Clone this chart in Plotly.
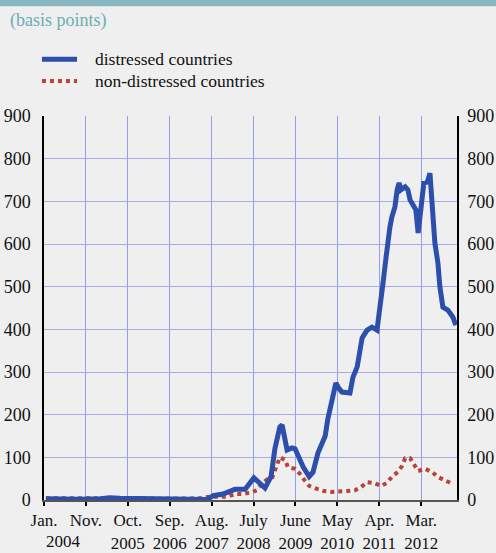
import plotly.graph_objects as go

# x = months since Jan. 2004, y = basis points
distressed_months = [0.5, 4.2, 9.4, 14.7, 17.3, 19.9, 25.2, 30.4, 35.7, 40.9, 42.8, 44.4, 47.0,
                     50.1, 52.8, 55.1, 58.0, 59.6, 60.6, 61.9, 62.5, 63.8, 65.1, 65.9, 68.0,
                     69.6, 70.6, 71.9, 73.0, 73.8, 74.5, 75.9, 76.6, 77.4, 78.2, 80.3, 81.1,
                     82.2, 83.5, 84.8, 86.1, 87.4, 88.2, 89.0, 89.8, 90.3, 90.8, 91.3, 92.1,
                     92.7, 93.2, 93.7, 94.8, 95.5, 96.1, 96.9, 97.6, 98.2, 98.7, 99.2, 99.7,
                     100.5, 100.8, 101.3, 101.8, 102.6, 103.4, 103.9, 104.7, 106.0, 107.3, 108.1]
distressed_bp = [3, 2, 2, 3, 5, 4, 3, 3, 2, 1, 1, 10, 14,
                 25, 25, 52, 28, 55, 120, 171, 176, 117, 122, 120, 78,
                 55, 65, 110, 130, 150, 190, 241, 274, 262, 253, 251, 288,
                 312, 380, 398, 405, 398, 445, 510, 570, 610, 640, 663, 687,
                 727, 743, 727, 734, 727, 703, 691, 680, 626, 663, 719, 743,
                 745, 750, 766, 703, 602, 555, 500, 452, 445, 429, 410]

non_distressed_months = [0.5, 9.4, 19.9, 30.4, 40.9, 42.3, 44.4, 48.3, 50.1, 52.0, 54.1, 55.9,
                         57.2, 58.5, 59.8, 60.4, 61.2, 61.9, 63.3, 64.0, 65.9, 67.2, 68.5, 69.6,
                         71.7, 73.5, 75.6, 77.4, 79.5, 81.6, 83.2, 84.8, 86.6, 88.5, 90.0, 91.3,
                         92.9, 94.0, 94.8, 96.1, 97.1, 98.2, 100.0, 101.8, 103.4, 105.2, 107.1]
non_distressed_bp = [4, 3, 4, 3, 4, 7, 7, 8, 14, 14, 17, 23,
                     38, 48, 50, 63, 82, 100, 94, 77, 73, 61, 45, 33,
                     26, 21, 19, 19, 21, 23, 30, 42, 40, 33, 40, 54,
                     66, 80, 98, 98, 82, 68, 73, 66, 54, 47, 38]

tick_months = [0, 11, 22, 33, 44, 55, 66, 77, 88, 99]
tick_text = ["Jan.", "Nov.", "Oct.<br>2005", "Sep.<br>2006", "Aug.<br>2007", "July<br>2008",
             "June<br>2009", "May<br>2010", "Apr.<br>2011", "Mar.<br>2012"]
y_ticks = [0, 100, 200, 300, 400, 500, 600, 700, 800, 900]

BLUE = "#2c4fab"
RED = "#b8433a"
GRID = "#a4aaeb"
BG = "#efefef"
FONT = "Times New Roman, Liberation Serif, Tinos, Times, DejaVu Serif, serif"

fig = go.Figure()
fig.add_trace(go.Scatter(x=non_distressed_months, y=non_distressed_bp, mode="lines",
                         line=dict(color=RED, width=4, dash="4px,4px"),
                         name="non-distressed countries", showlegend=False))
# blue series sits on the right-hand axis (same scale) so that axis gets drawn
fig.add_trace(go.Scatter(x=distressed_months, y=distressed_bp, mode="lines", yaxis="y2",
                         line=dict(color=BLUE, width=5),
                         name="distressed countries", showlegend=False))

fig.update_layout(
    width=496, height=553,
    margin=dict(l=44, r=39, t=116, b=53),
    paper_bgcolor=BG, plot_bgcolor=BG,
    font=dict(family=FONT, size=18, color="#111"),
    xaxis=dict(range=[0, 108.4], tickvals=tick_months, ticktext=tick_text,
               tickfont=dict(size=17),
               showgrid=True, gridcolor="#949cec", gridwidth=1, zeroline=False,
               showline=True, linecolor="#555", linewidth=2,
               ticks="outside", ticklen=4, tickwidth=2, tickcolor="#000",
               ticklabelstandoff=0, automargin=False),
    yaxis=dict(range=[0, 900], tickvals=y_ticks, showgrid=True, gridcolor=GRID,
               zeroline=False, showline=True, linecolor="#000", linewidth=1.5,
               ticks="", ticklabelstandoff=8, automargin=False),
    yaxis2=dict(range=[0, 900], tickvals=y_ticks, overlaying="y", side="right",
                showgrid=False, zeroline=False, showline=True, linecolor="#000",
                linewidth=1.5, ticks="", ticklabelstandoff=5, automargin=False),
)

# top bar and unit label
fig.add_shape(type="rect", xref="paper", yref="paper", x0=-0.12, x1=1.12,
              y0=1.286, y1=1.31, fillcolor="#88b6c1", line_width=0, layer="above")
fig.add_annotation(text="(basis points)", xref="paper", yref="paper", x=-0.087, y=1.25,
                   xanchor="left", yanchor="middle", showarrow=False,
                   font=dict(size=18, color="#6aaeb7"))

# legend
fig.add_shape(type="line", xref="paper", yref="paper", x0=-0.005, x1=0.08, y0=1.148, y1=1.148,
              line=dict(color=BLUE, width=5))
fig.add_shape(type="line", xref="paper", yref="paper", x0=-0.005, x1=0.08, y0=1.091, y1=1.091,
              line=dict(color=RED, width=4, dash="4px,4px"))
fig.add_annotation(text="distressed countries", xref="paper", yref="paper", x=0.118, y=1.148,
                   xanchor="left", yanchor="middle", showarrow=False, font=dict(size=17.5))
fig.add_annotation(text="non-distressed countries", xref="paper", yref="paper", x=0.118, y=1.091,
                   xanchor="left", yanchor="middle", showarrow=False, font=dict(size=17.5))

# year under first tick
fig.add_annotation(text="2004", x=5, xref="x", y=-0.108, yref="paper",
                   yanchor="middle", showarrow=False, font=dict(size=17))

fig.write_html("out.html", config={"displayModeBar": False},
               post_script="document.body.style.margin='0';")
